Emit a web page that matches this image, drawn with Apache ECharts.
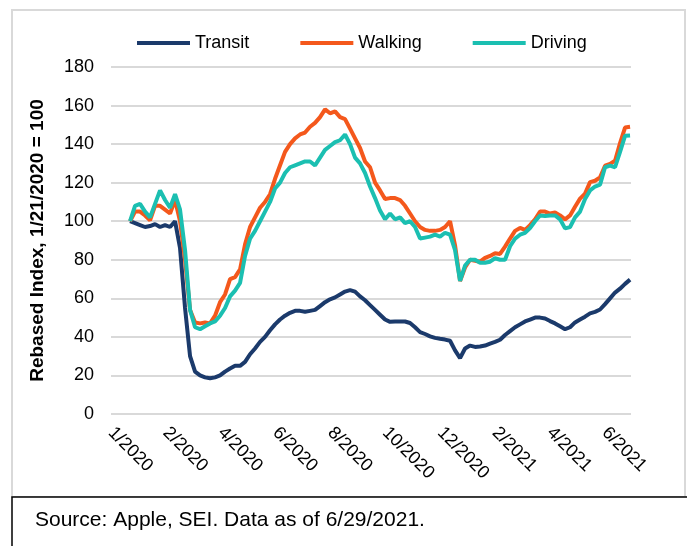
<!DOCTYPE html>
<html>
<head>
<meta charset="utf-8">
<script src="https://cdn.jsdelivr.net/npm/echarts@6/dist/echarts.min.js"></script>
<style>
  html, body { margin: 0; padding: 0; background: #fff; }
  #chart { width: 687px; height: 546px; }
</style>
</head>
<body>
<div id="chart"></div>
<script>
// x axis counted in days since 1/1/2020; samples start 1/21/2020
const startDay = 20;
const stepDays = 5.25;
const tickLabels = ['1/2020', '2/2020', '4/2020', '6/2020', '8/2020', '10/2020', '12/2020', '2/2021', '4/2021', '6/2021'];
const tickStep = 57.6;

const transit = [
  100, 99, 98, 97, 97.5, 98.5, 97, 98, 97, 100,
  86, 55, 30, 22, 20, 19, 18.5, 19, 20, 22,
  23.6, 25, 25, 27, 31, 34, 37.4, 40, 43.4, 46.5,
  49, 51, 52.5, 53.5, 53.5, 53, 53.5, 54, 56, 58,
  59.5, 60.5, 62, 63.5, 64.3, 63.5, 61, 59, 56.5, 54,
  51.5, 49, 47.8, 48, 48, 48, 47.2, 45, 42.5, 41.5,
  40.3, 39.5, 39, 38.6, 38, 33, 29, 34, 35.5, 34.8,
  35, 35.5, 36.5, 37.4, 38.5, 41, 43, 45, 46.5, 48,
  49, 50, 50, 49.5, 48.2, 47, 45.5, 44, 45, 47.5,
  49, 50.5, 52.2, 53, 54.2, 57, 60, 63, 65, 67.5,
  69.7
];

const walking = [
  100, 105, 105, 103, 100.5, 108, 108, 106, 104, 111,
  100, 80, 54, 47.5, 47, 47.5, 47, 51, 58, 62,
  70, 71, 75, 88, 97, 102, 107, 110, 114, 122,
  129, 136, 140, 143, 145, 146, 149, 151, 154, 158,
  156, 157, 154, 153, 148, 143, 138, 131, 128, 120,
  116, 111.5, 112, 112, 111, 108, 104, 100, 97, 95.5,
  95, 95, 95.5, 97, 100, 87.5, 69, 76, 80, 79.5,
  79, 81, 82, 83.4, 83, 86.8, 91, 95, 96.5, 95.5,
  98, 101, 105, 105, 104, 104.5, 103, 101, 103, 107.5,
  111.7, 114.3, 120.3, 121, 122.8, 128.8, 129.7, 131.4, 140.5, 148.6,
  149
];

const driving = [
  100, 108, 109, 105, 102, 109, 116, 111, 107, 114,
  106, 85, 54, 45, 44, 45.5, 47, 48, 51, 55,
  61, 64, 68, 82, 91, 95, 100, 105, 110, 117,
  120, 125, 128, 129, 130, 131, 131, 129, 133, 137,
  139, 141, 142, 145, 140, 133, 130, 125, 118, 112,
  105.5, 101, 104, 101, 102, 99, 100, 97, 91, 91.5,
  92, 93, 92, 94, 93, 85, 69, 77, 80, 80,
  78.5, 78.5, 79, 80.8, 80, 80, 87, 91, 93, 94,
  96.5, 100, 103, 102.7, 103, 103, 101, 96.3, 97, 102,
  105, 111.5, 116, 118, 119, 128, 128.8, 128, 136, 144.3,
  144.5
];

const toPoints = (arr) => arr.map((v, i) => [startDay + i * stepDays, v]);

const chart = echarts.init(document.getElementById('chart'));
const font = 'Liberation Sans, Arial, sans-serif';

const lineSeries = (name, data, color) => ({
  name,
  type: 'line',
  data: toPoints(data),
  showSymbol: false,
  smooth: false,
  lineStyle: { color, width: 4 },
  itemStyle: { color },
});

chart.setOption({
  animation: false,
  backgroundColor: '#fff',
  textStyle: { fontFamily: font },
  grid: { left: 111, right: 56, top: 67, bottom: 132 },
  legend: {
    data: ['Transit', 'Walking', 'Driving'],
    left: 132,
    top: 29,
    icon: 'rect',
    itemWidth: 53,
    itemHeight: 4,
    itemGap: 51,
    textStyle: { fontFamily: font, fontSize: 18, color: '#000' },
  },
  xAxis: {
    type: 'value',
    min: 0,
    max: 546,
    interval: tickStep,
    axisLine: { show: false },
    axisTick: { show: false },
    splitLine: { show: false },
    axisLabel: {
      rotate: -45,
      margin: 16,
      showMaxLabel: false,
      fontFamily: font,
      fontSize: 18,
      color: '#000',
      formatter: (v) => {
        const k = Math.round(v / tickStep);
        return Math.abs(v - k * tickStep) < 0.5 ? (tickLabels[k] || '') : '';
      },
    },
  },
  yAxis: {
    type: 'value',
    min: 0,
    max: 180,
    interval: 20,
    name: 'Rebased Index, 1/21/2020 = 100',
    nameLocation: 'middle',
    nameGap: 64,
    nameTextStyle: { fontFamily: font, fontSize: 19, fontWeight: 'bold', color: '#000' },
    axisLine: { show: false },
    axisTick: { show: false },
    axisLabel: { fontFamily: font, fontSize: 18, color: '#000', margin: 17 },
    splitLine: { lineStyle: { color: '#d9d9d9', width: 2 } },
  },
  graphic: [
    {
      type: 'rect',
      shape: { x: 12, y: 10, width: 673, height: 487 },
      style: { fill: 'none', stroke: '#d9d9d9', lineWidth: 2 },
      z: -1,
    },
    {
      type: 'rect',
      shape: { x: 12, y: 497, width: 680, height: 60 },
      style: { fill: '#fff', stroke: '#000', lineWidth: 1.5 },
    },
    {
      type: 'text',
      left: 35,
      top: 510,
      style: { text: 'Source: Apple, SEI. Data as of 6/29/2021.', fontFamily: font, fontSize: 21, fill: '#000' },
    },
  ],
  series: [
    lineSeries('Transit', transit, '#1b3a6b'),
    lineSeries('Walking', walking, '#f4581c'),
    lineSeries('Driving', driving, '#1bbfb1'),
  ],
});
</script>
</body>
</html>
